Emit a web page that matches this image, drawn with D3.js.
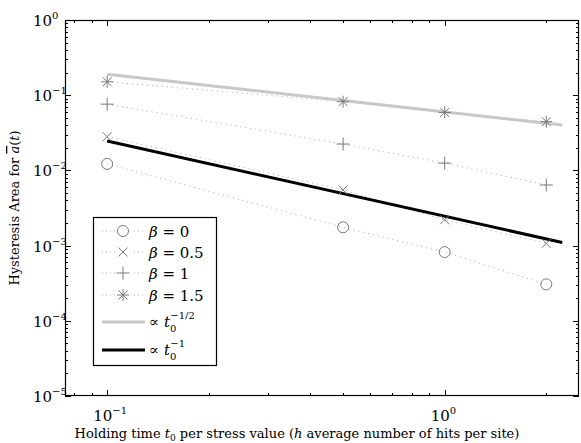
<!DOCTYPE html>
<html>
<head>
<meta charset="utf-8">
<script src="https://cdn.jsdelivr.net/npm/d3@7"></script>
<style>
  body { margin: 0; background: #fff; }
</style>
</head>
<body>
<script>
// data
var holdTimes = [0.1, 0.5, 1, 2];
var beta0 = [0.0122, 0.00175, 0.00082, 0.000305];
var beta05 = [0.0281, 0.0055, 0.0022, 0.00107];
var beta1 = [0.076, 0.0224, 0.0125, 0.0064];
var beta15 = [0.151, 0.082, 0.059, 0.0445];
var fitTimes = [0.1, 2.23];
var fitHalf = [0.19, 0.0402];
var fitOne = [0.0246, 0.0011];
var xTickValues = [0.1, 1];
var yTickValues = [1, 0.1, 0.01, 0.001, 0.0001, 0.00001];

var w = 581;
var h = 443;
var margin = {left: 65, top: 20, right: 2, bottom: 47};
var serif = "'DejaVu Serif', serif";

var svg = d3.select("body")
  .append("svg")
  .attr("width", w)
  .attr("height", h)
  .style("font-family", serif);

var xScale = d3.scaleLog()
  .domain([0.075, 2.5])
  .range([margin.left, w - margin.right]);

var yScale = d3.scaleLog()
  .domain([0.00001, 1])
  .range([h - margin.bottom, margin.top]);

var x0 = xScale.range()[0], x1 = xScale.range()[1];
var y0 = yScale.range()[0], y1 = yScale.range()[1];

// minor + major ticks, pointing inwards on all four sides
var xMinor = xScale.ticks().filter(function (d) { return xTickValues.indexOf(d) < 0; });
var yMinor = yScale.ticks().filter(function (d) { return yTickValues.indexOf(d) < 0; });

var ticks = svg.append("g").attr("stroke", "#000").attr("stroke-width", 1);
xMinor.forEach(function (d) {
  var x = Math.round(xScale(d)) + 0.5;
  ticks.append("line").attr("x1", x).attr("x2", x).attr("y1", y0).attr("y2", y0 - 3);
  ticks.append("line").attr("x1", x).attr("x2", x).attr("y1", y1).attr("y2", y1 + 3);
});
xTickValues.forEach(function (d) {
  var x = Math.round(xScale(d)) + 0.5;
  ticks.append("line").attr("x1", x).attr("x2", x).attr("y1", y0).attr("y2", y0 - 6);
  ticks.append("line").attr("x1", x).attr("x2", x).attr("y1", y1).attr("y2", y1 + 6);
});
yMinor.forEach(function (d) {
  var y = Math.round(yScale(d)) + 0.5;
  ticks.append("line").attr("x1", x0).attr("x2", x0 + 3).attr("y1", y).attr("y2", y);
  ticks.append("line").attr("x1", x1).attr("x2", x1 - 3).attr("y1", y).attr("y2", y);
});
yTickValues.forEach(function (d) {
  var y = Math.round(yScale(d)) + 0.5;
  ticks.append("line").attr("x1", x0).attr("x2", x0 + 6).attr("y1", y).attr("y2", y);
  ticks.append("line").attr("x1", x1).attr("x2", x1 - 6).attr("y1", y).attr("y2", y);
});

// frame
svg.append("rect")
  .attr("x", x0 + 0.5)
  .attr("y", y1 + 0.5)
  .attr("width", x1 - x0 - 1)
  .attr("height", y0 - y1 - 1)
  .attr("fill", "none")
  .attr("stroke", "#000")
  .attr("stroke-width", 1.2);

// tick labels
function powerLabel(sel, exp) {
  sel.append("tspan").text("10");
  sel.append("tspan").attr("dy", -7).attr("font-size", 10).text(exp);
}
function expOf(d) {
  var e = Math.round(Math.log10(d));
  return e === 0 ? "0" : "\u2212" + (-e);
}
yTickValues.forEach(function (d) {
  var t = svg.append("text")
    .attr("x", 33)
    .attr("y", yScale(d) + 6)
    .attr("font-size", 15);
  powerLabel(t, expOf(d));
});
xTickValues.forEach(function (d) {
  var t = svg.append("text")
    .attr("x", xScale(d) - 14)
    .attr("y", 421)
    .attr("font-size", 15);
  powerLabel(t, expOf(d));
});

// axis titles
var xl = svg.append("text")
  .attr("x", 297)
  .attr("y", 438)
  .attr("text-anchor", "middle")
  .attr("font-size", 13);
xl.append("tspan").text("Holding time ");
xl.append("tspan").attr("font-style", "italic").text("t");
xl.append("tspan").attr("font-size", 9).attr("dy", 3).text("0");
xl.append("tspan").attr("dy", -3).text(" per stress value (");
xl.append("tspan").attr("font-style", "italic").text("h");
xl.append("tspan").text(" average number of hits per site)");

var yl = svg.append("text")
  .attr("transform", "translate(19," + ((y0 + y1) / 2) + ") rotate(-90)")
  .attr("text-anchor", "middle")
  .attr("font-size", 13);
yl.append("tspan").text("Hysteresis Area for ");
yl.append("tspan").attr("font-style", "italic").attr("text-decoration", "overline").text("a");
yl.append("tspan").text("(");
yl.append("tspan").attr("font-style", "italic").text("t");
yl.append("tspan").text(")");

// series
var markerColor = "#7a7a7a";
var series = [
  {name: "0", values: beta0, marker: "circle"},
  {name: "0.5", values: beta05, marker: "cross"},
  {name: "1", values: beta1, marker: "plus"},
  {name: "1.5", values: beta15, marker: "star"}
];

function drawMarker(g, kind, cx, cy) {
  var m = g.append("g")
    .attr("transform", "translate(" + cx + "," + cy + ")")
    .attr("stroke", markerColor)
    .attr("stroke-width", 1)
    .attr("fill", "none");
  if (kind === "circle") {
    m.append("circle").attr("r", 5.5);
  }
  if (kind === "cross" || kind === "star") {
    m.append("path").attr("d", "M-4.5,-4.5L4.5,4.5M-4.5,4.5L4.5,-4.5");
  }
  if (kind === "plus" || kind === "star") {
    m.append("path").attr("d", kind === "star" ? "M-6,0H6M0,-6V6" : "M-6.5,0H6.5M0,-6.5V6.5");
  }
}

var line = d3.line()
  .x(function (d) { return xScale(d[0]); })
  .y(function (d) { return yScale(d[1]); });

series.forEach(function (s) {
  var pts = holdTimes.map(function (t, i) { return [t, s.values[i]]; });
  svg.append("path")
    .attr("d", line(pts))
    .attr("fill", "none")
    .attr("stroke", "#a8a8a8")
    .attr("stroke-width", 1)
    .attr("stroke-dasharray", "1,4");
});

// fit lines
svg.append("path")
  .attr("d", line(fitTimes.map(function (t, i) { return [t, fitHalf[i]]; })))
  .attr("fill", "none")
  .attr("stroke", "#c8c8c8")
  .attr("stroke-width", 3);
svg.append("path")
  .attr("d", line(fitTimes.map(function (t, i) { return [t, fitOne[i]]; })))
  .attr("fill", "none")
  .attr("stroke", "#000")
  .attr("stroke-width", 3);

series.forEach(function (s) {
  var g = svg.append("g");
  holdTimes.forEach(function (t, i) {
    drawMarker(g, s.marker, xScale(t), yScale(s.values[i]));
  });
});

// legend
var lg = svg.append("g");
lg.append("rect")
  .attr("x", 93.5).attr("y", 217.5)
  .attr("width", 123).attr("height", 148)
  .attr("fill", "#fff")
  .attr("stroke", "#000")
  .attr("stroke-width", 1.2);

var rowY = [231, 252, 273, 295];
series.forEach(function (s, i) {
  lg.append("line")
    .attr("x1", 102).attr("x2", 145)
    .attr("y1", rowY[i]).attr("y2", rowY[i])
    .attr("stroke", "#a8a8a8")
    .attr("stroke-dasharray", "1,3");
  lg.append("rect").attr("x", 115).attr("y", rowY[i] - 7).attr("width", 16).attr("height", 14).attr("fill", "#fff");
  drawMarker(lg, s.marker, 123, rowY[i]);
  var t = lg.append("text").attr("x", 149).attr("y", rowY[i] + 6).attr("font-size", 15);
  t.append("tspan").attr("font-style", "italic").text("\u03b2");
  t.append("tspan").text(" = " + s.name);
});

var fitRows = [
  {y: 322, color: "#c8c8c8", exp: "\u22121/2"},
  {y: 350, color: "#000", exp: "\u22121"}
];
fitRows.forEach(function (r) {
  lg.append("line")
    .attr("x1", 102).attr("x2", 145)
    .attr("y1", r.y).attr("y2", r.y)
    .attr("stroke", r.color)
    .attr("stroke-width", 3);
  var t = lg.append("text").attr("x", 149).attr("y", r.y + 5).attr("font-size", 15);
  t.append("tspan").text("\u221d ");
  t.append("tspan").attr("font-style", "italic").text("t");
  t.append("tspan").attr("font-size", 10).attr("dy", 5).text("0");
  t.append("tspan").attr("font-size", 10).attr("dx", -6).attr("dy", -13).text(r.exp);
});
</script>
</body>
</html>
